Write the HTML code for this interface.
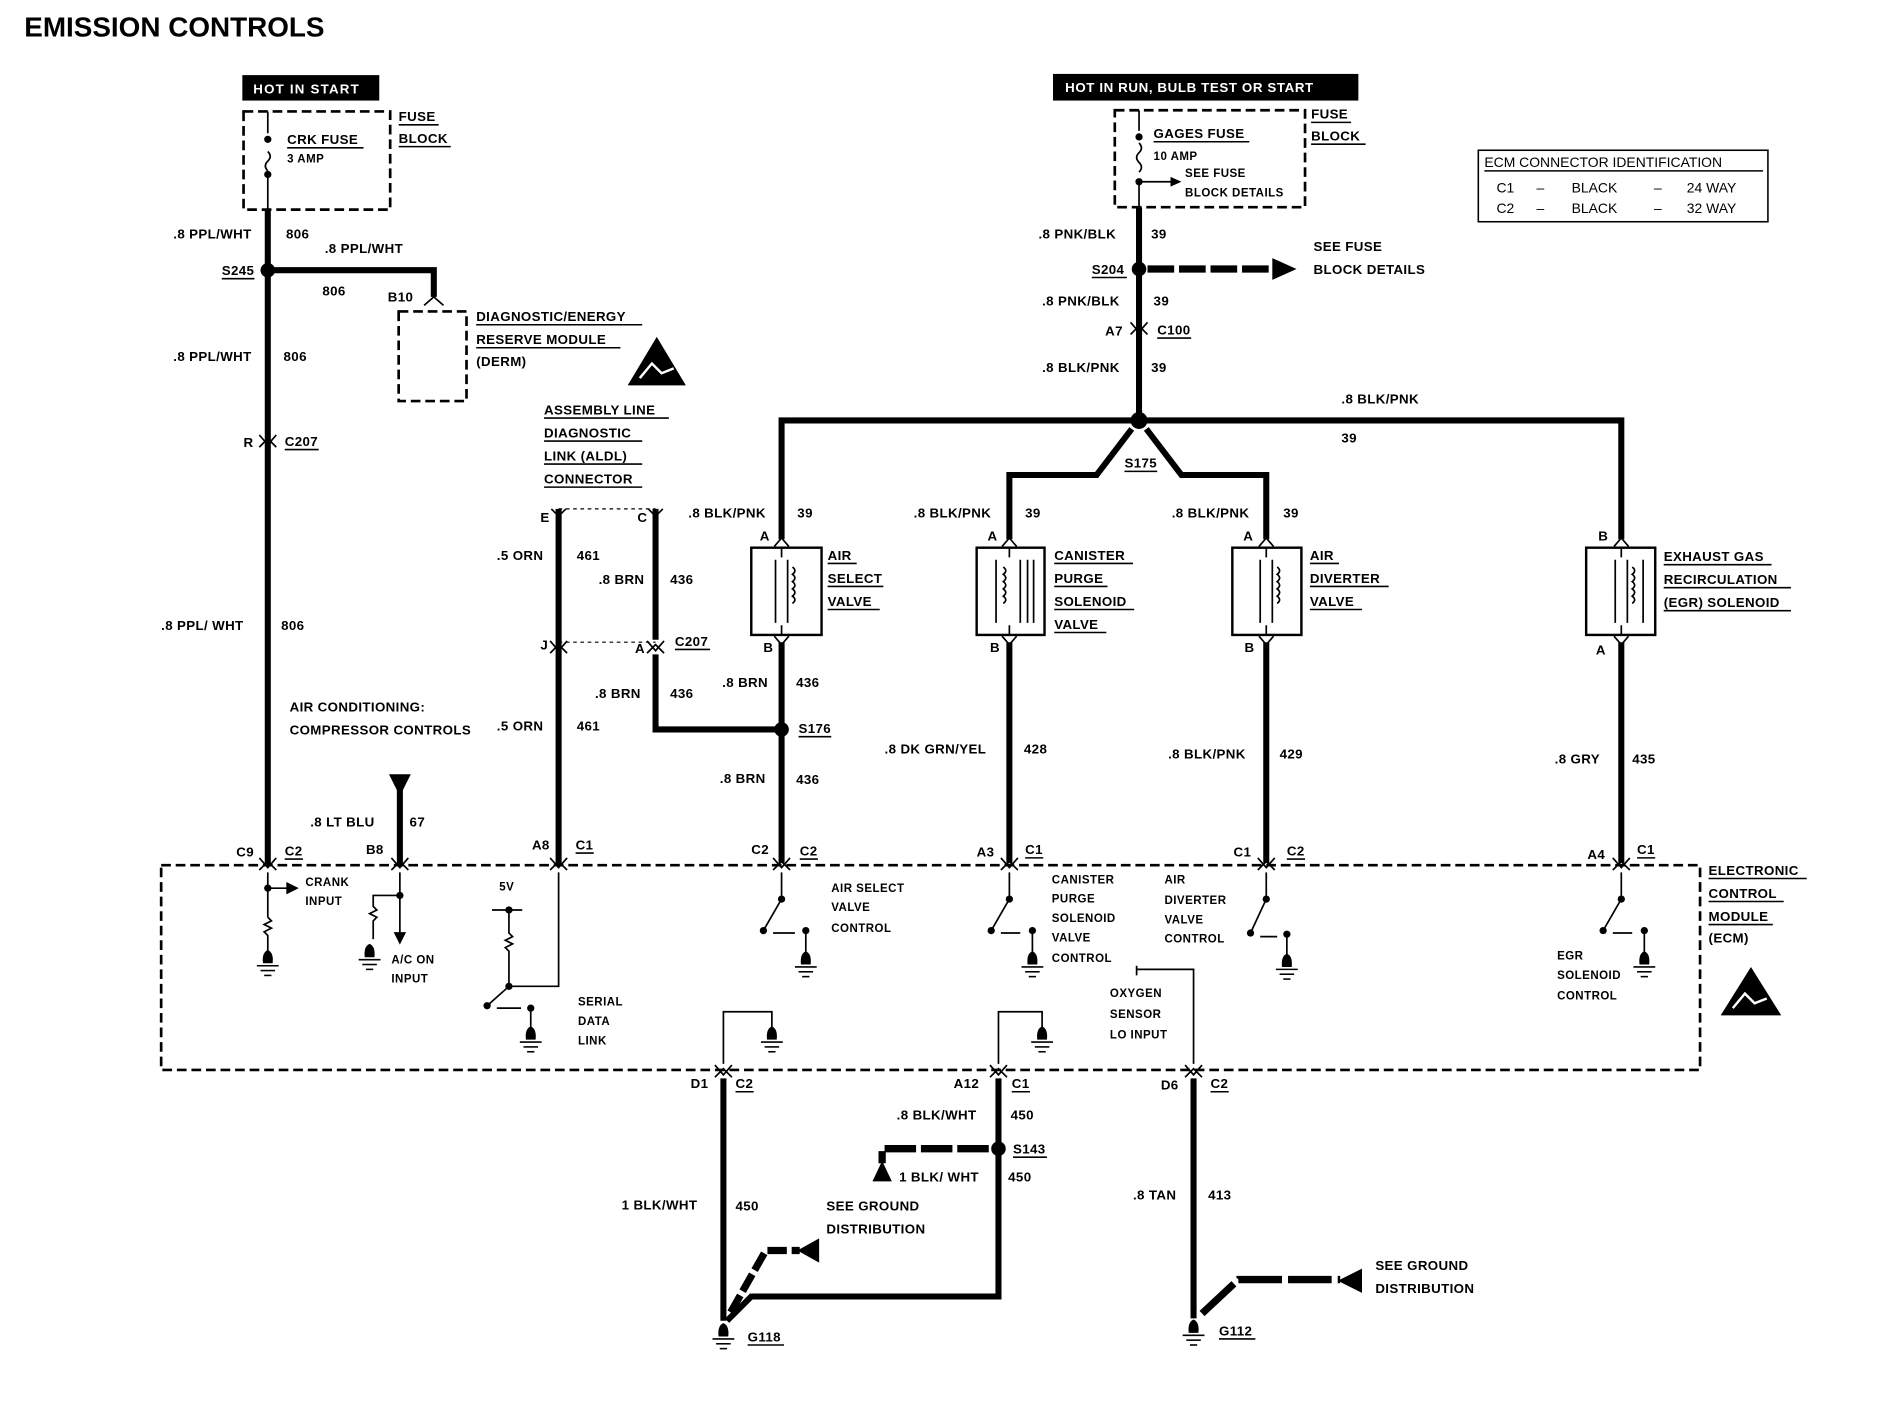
<!DOCTYPE html>
<html><head><meta charset="utf-8"><style>
html,body{margin:0;padding:0;background:#fff;}
svg{display:block;}
text{font-family:"Liberation Sans Narrow","Liberation Sans",sans-serif;font-weight:bold;font-size:11.5px;fill:#000;}
.t{font-size:11px;letter-spacing:0.3px;}
.s{font-size:9.5px;letter-spacing:0.4px;}
.w{stroke:#000;stroke-width:5;fill:none;}
.n{stroke:#000;stroke-width:1.4;fill:none;}
.d{stroke:#000;stroke-width:2.2;fill:none;stroke-dasharray:8,4;}
.u{stroke:#000;stroke-width:1.3;}
</style></head><body>
<svg width="1900" height="1408" viewBox="0 0 1568 1162" preserveAspectRatio="none" xmlns="http://www.w3.org/2000/svg">
<defs>
<g id="gnd"><path d="M-4,0 Q-5,-9 0,-11 Q5,-9 4,0 Z" fill="#000"/><line x1="-9" y1="2" x2="9" y2="2" class="u" stroke-width="2"/><line x1="-6" y1="6" x2="6" y2="6" class="u" stroke-width="2"/><line x1="-3" y1="10" x2="3" y2="10" class="u" stroke-width="2"/></g>
<g id="con"><path d="M-7,-6 L0,2 L7,-6" class="n" stroke-width="2.4"/><path d="M-7,4 L0,-3 L7,4" class="n" stroke-width="2.4"/></g>
</defs>
<text x="20" y="30" style="font-size:23px;font-family:'Liberation Sans',sans-serif;">EMISSION CONTROLS</text>

<!-- left fuse -->
<rect x="200" y="62" width="113" height="21" fill="#000"/>
<text x="209" y="77" fill="#fff" style="fill:#fff;font-size:11px;letter-spacing:1px">HOT IN START</text>
<rect x="201" y="92" width="121" height="81" class="d"/>
<path d="M221,92 V110 M221,125 q4,4 0,8 q-4,4 0,8 M221,145 V173" class="n"/>
<circle cx="221" cy="115" r="3"/><circle cx="221" cy="144" r="3"/>
<text x="237" y="119" class="t">CRK FUSE</text><line x1="237" y1="122" x2="300" y2="122" class="u"/>
<text x="237" y="134" class="s">3 AMP</text>
<text x="329" y="100" class="t">FUSE</text><line x1="329" y1="103" x2="362" y2="103" class="u"/>
<text x="329" y="118" class="t">BLOCK</text><line x1="329" y1="121" x2="372" y2="121" class="u"/>

<line x1="221" y1="173" x2="221" y2="714" class="w"/>
<text x="143" y="197" class="t">.8 PPL/WHT</text><text x="236" y="197" class="t">806</text>
<circle cx="221" cy="223" r="6"/>
<text x="183" y="227" class="t">S245</text><line x1="183" y1="230" x2="210" y2="230" class="u"/>
<path d="M221,223 H358 V245" class="w"/>
<path d="M350,252 L358,245 L366,252" class="n" stroke-width="3"/>
<text x="268" y="209" class="t">.8 PPL/WHT</text><text x="266" y="244" class="t">806</text>
<text x="320" y="249" class="t">B10</text>
<rect x="329" y="257" width="56" height="74" class="d"/>
<text x="393" y="265" class="t">DIAGNOSTIC/ENERGY</text><line x1="393" y1="268" x2="530" y2="268" class="u"/>
<text x="393" y="284" class="t">RESERVE MODULE</text><line x1="393" y1="287" x2="512" y2="287" class="u"/>
<text x="393" y="302" class="t">(DERM)</text>
<path d="M518,318 L542,278 L566,318 Z" fill="#000"/>
<path d="M528,312 l10,-12 l8,8 l10,-4" stroke="#fff" stroke-width="2" fill="none"/>
<text x="143" y="298" class="t">.8 PPL/WHT</text><text x="234" y="298" class="t">806</text>
<use href="#con" x="221" y="365"/>
<text x="201" y="369" class="t">R</text><text x="235" y="368" class="t">C207</text><line x1="235" y1="371" x2="263" y2="371" class="u"/>
<text x="133" y="520" class="t">.8 PPL/ WHT</text><text x="232" y="520" class="t">806</text>
<text x="239" y="587" class="t">AIR CONDITIONING:</text>
<text x="239" y="606" class="t">COMPRESSOR CONTROLS</text>
<path d="M321,639 L339,639 L330,657 Z" fill="#000"/>
<line x1="330" y1="650" x2="330" y2="714" class="w"/>
<text x="256" y="682" class="t">.8 LT BLU</text><text x="338" y="682" class="t">67</text>

<!-- ALDL -->
<text x="449" y="342" class="t">ASSEMBLY LINE</text><line x1="449" y1="345" x2="552" y2="345" class="u"/>
<text x="449" y="361" class="t">DIAGNOSTIC</text><line x1="449" y1="364" x2="530" y2="364" class="u"/>
<text x="449" y="380" class="t">LINK (ALDL)</text><line x1="449" y1="383" x2="530" y2="383" class="u"/>
<text x="449" y="399" class="t">CONNECTOR</text><line x1="449" y1="402" x2="530" y2="402" class="u"/>
<path d="M461,420 H541" stroke="#000" stroke-width="1" stroke-dasharray="3,3"/>
<path d="M461,530 H541" stroke="#000" stroke-width="1" stroke-dasharray="3,3"/>
<text x="446" y="431" class="t">E</text><text x="526" y="431" class="t">C</text>
<line x1="461" y1="420" x2="461" y2="714" class="w"/>
<line x1="541" y1="420" x2="541" y2="528" class="w"/>
<path d="M541,540 V602 H645" class="w"/>
<use href="#con" x="461" y="535"/><use href="#con" x="541" y="535"/>
<path d="M455,420 l6,6 l6,-6 M535,420 l6,6 l6,-6" class="n" stroke-width="2"/>
<text x="446" y="536" class="t">J</text><text x="524" y="539" class="t">A</text>
<text x="557" y="533" class="t">C207</text><line x1="557" y1="536" x2="586" y2="536" class="u"/>
<text x="410" y="462" class="t">.5 ORN</text><text x="476" y="462" class="t">461</text>
<text x="494" y="482" class="t">.8 BRN</text><text x="553" y="482" class="t">436</text>
<text x="568" y="427" class="t">.8 BLK/PNK</text><text x="658" y="427" class="t">39</text>
<text x="491" y="576" class="t">.8 BRN</text><text x="553" y="576" class="t">436</text>
<text x="410" y="603" class="t">.5 ORN</text><text x="476" y="603" class="t">461</text>

<!-- right power -->
<rect x="869" y="61" width="252" height="22" fill="#000"/>
<text x="879" y="76" style="fill:#fff;font-size:11px;letter-spacing:0.5px">HOT IN RUN, BULB TEST OR START</text>
<rect x="920" y="91" width="157" height="80" class="d"/>
<path d="M940,91 V108 M940,118 q4,4 0,8 q-4,4 0,8 q4,4 0,8 M940,150 V171" class="n"/>
<circle cx="940" cy="113" r="3"/><circle cx="940" cy="150" r="3"/>
<path d="M940,150 H968" class="n"/><path d="M966,146 L975,150 L966,154 Z" fill="#000"/>
<text x="952" y="114" class="t">GAGES FUSE</text><line x1="952" y1="117" x2="1031" y2="117" class="u"/>
<text x="952" y="132" class="s">10 AMP</text>
<text x="978" y="146" class="s">SEE FUSE</text>
<text x="978" y="162" class="s">BLOCK DETAILS</text>
<text x="1082" y="98" class="t">FUSE</text><line x1="1082" y1="101" x2="1115" y2="101" class="u"/>
<text x="1082" y="116" class="t">BLOCK</text><line x1="1082" y1="119" x2="1127" y2="119" class="u"/>
<line x1="940" y1="171" x2="940" y2="347" class="w"/>
<text x="857" y="197" class="t">.8 PNK/BLK</text><text x="950" y="197" class="t">39</text>
<circle cx="940" cy="222" r="6"/>
<text x="901" y="226" class="t">S204</text><line x1="901" y1="229" x2="930" y2="229" class="u"/>
<path d="M947,222 H1052" stroke="#000" stroke-width="6" stroke-dasharray="22,4"/>
<path d="M1050,213 L1070,222 L1050,231 Z" fill="#000"/>
<text x="1084" y="207" class="t">SEE FUSE</text><text x="1084" y="226" class="t">BLOCK DETAILS</text>
<text x="860" y="252" class="t">.8 PNK/BLK</text><text x="952" y="252" class="t">39</text>
<use href="#con" x="940" y="272"/>
<text x="912" y="277" class="t">A7</text><text x="955" y="276" class="t">C100</text><line x1="955" y1="279" x2="983" y2="279" class="u"/>
<text x="860" y="307" class="t">.8 BLK/PNK</text><text x="950" y="307" class="t">39</text>
<text x="1107" y="333" class="t">.8 BLK/PNK</text><text x="1107" y="365" class="t">39</text>

<path d="M645,445 V347 H1338 V445" class="w"/>
<circle cx="940" cy="347" r="7"/>
<path d="M934,354 L905,392 H833 V445 M946,354 L975,392 H1045 V445" class="w"/>
<text x="928" y="386" class="t">S175</text><line x1="928" y1="389" x2="955" y2="389" class="u"/>

<!-- valves -->
<g>
<rect x="620" y="452" width="58" height="72" fill="none" stroke="#000" stroke-width="2"/>
<path d="M645,452 v8 M645,516 v8 M640,462 v52 M650,462 v52 M654,468 q4,3 0,6 q4,3 0,6 q4,3 0,6 q4,3 0,6 q4,3 0,6" class="n"/>
<path d="M639,451 l6,-7 l6,7 M639,525 l6,7 l6,-7" class="n" stroke-width="2"/>
<text x="627" y="446" class="t">A</text><text x="630" y="538" class="t">B</text>
<text x="683" y="462" class="t">AIR</text><line x1="683" y1="465" x2="707" y2="465" class="u"/>
<text x="683" y="481" class="t">SELECT</text><line x1="683" y1="484" x2="729" y2="484" class="u"/>
<text x="683" y="500" class="t">VALVE</text><line x1="683" y1="503" x2="726" y2="503" class="u"/>
</g>
<g>
<rect x="806" y="452" width="56" height="72" fill="none" stroke="#000" stroke-width="2"/>
<path d="M833,452 v8 M833,516 v8 M822,462 v52 M828,468 q4,3 0,6 q4,3 0,6 q4,3 0,6 q4,3 0,6 q4,3 0,6 M842,462 v52 M848,462 v52 M853,462 v52" class="n"/>
<path d="M827,451 l6,-7 l6,7 M827,525 l6,7 l6,-7" class="n" stroke-width="2"/>
<text x="815" y="446" class="t">A</text><text x="817" y="538" class="t">B</text>
<text x="870" y="462" class="t">CANISTER</text><line x1="870" y1="465" x2="935" y2="465" class="u"/>
<text x="870" y="481" class="t">PURGE</text><line x1="870" y1="484" x2="914" y2="484" class="u"/>
<text x="870" y="500" class="t">SOLENOID</text><line x1="870" y1="503" x2="936" y2="503" class="u"/>
<text x="870" y="519" class="t">VALVE</text><line x1="870" y1="522" x2="913" y2="522" class="u"/>
</g>
<g>
<rect x="1017" y="452" width="57" height="72" fill="none" stroke="#000" stroke-width="2"/>
<path d="M1045,452 v8 M1045,516 v8 M1040,462 v52 M1050,462 v52 M1054,468 q4,3 0,6 q4,3 0,6 q4,3 0,6 q4,3 0,6 q4,3 0,6" class="n"/>
<path d="M1039,451 l6,-7 l6,7 M1039,525 l6,7 l6,-7" class="n" stroke-width="2"/>
<text x="1026" y="446" class="t">A</text><text x="1027" y="538" class="t">B</text>
<text x="1081" y="462" class="t">AIR</text><line x1="1081" y1="465" x2="1105" y2="465" class="u"/>
<text x="1081" y="481" class="t">DIVERTER</text><line x1="1081" y1="484" x2="1146" y2="484" class="u"/>
<text x="1081" y="500" class="t">VALVE</text><line x1="1081" y1="503" x2="1124" y2="503" class="u"/>
</g>
<g>
<rect x="1309" y="452" width="57" height="72" fill="none" stroke="#000" stroke-width="2"/>
<path d="M1338,452 v8 M1338,516 v8 M1333,462 v52 M1343,462 v52 M1347,468 q4,3 0,6 q4,3 0,6 q4,3 0,6 q4,3 0,6 q4,3 0,6 M1356,462 v52" class="n"/>
<path d="M1332,451 l6,-7 l6,7 M1332,525 l6,7 l6,-7" class="n" stroke-width="2"/>
<text x="1319" y="446" class="t">B</text><text x="1317" y="540" class="t">A</text>
<text x="1373" y="463" class="t">EXHAUST GAS</text><line x1="1373" y1="466" x2="1462" y2="466" class="u"/>
<text x="1373" y="482" class="t">RECIRCULATION</text><line x1="1373" y1="485" x2="1478" y2="485" class="u"/>
<text x="1373" y="501" class="t">(EGR) SOLENOID</text><line x1="1373" y1="504" x2="1478" y2="504" class="u"/>
</g>
<text x="754" y="427" class="t">.8 BLK/PNK</text><text x="846" y="427" class="t">39</text>
<text x="967" y="427" class="t">.8 BLK/PNK</text><text x="1059" y="427" class="t">39</text>

<line x1="645" y1="530" x2="645" y2="712" class="w"/>
<circle cx="645" cy="602" r="6"/>
<text x="659" y="605" class="t">S176</text><line x1="659" y1="608" x2="686" y2="608" class="u"/>
<text x="596" y="567" class="t">.8 BRN</text><text x="657" y="567" class="t">436</text>
<text x="594" y="646" class="t">.8 BRN</text><text x="657" y="647" class="t">436</text>
<line x1="833" y1="530" x2="833" y2="712" class="w"/>
<text x="730" y="622" class="t">.8 DK GRN/YEL</text><text x="845" y="622" class="t">428</text>
<line x1="1045" y1="530" x2="1045" y2="712" class="w"/>
<text x="964" y="626" class="t">.8 BLK/PNK</text><text x="1056" y="626" class="t">429</text>
<line x1="1338" y1="530" x2="1338" y2="712" class="w"/>
<text x="1283" y="630" class="t">.8 GRY</text><text x="1347" y="630" class="t">435</text>

<g>
<text x="195" y="707" class="t">C9</text><text x="235" y="706" class="t">C2</text><line x1="235" y1="709" x2="250" y2="709" class="u"/>
<text x="302" y="705" class="t">B8</text>
<text x="439" y="701" class="t">A8</text><text x="475" y="701" class="t">C1</text><line x1="475" y1="704" x2="490" y2="704" class="u"/>
<text x="620" y="705" class="t">C2</text><text x="660" y="706" class="t">C2</text><line x1="660" y1="709" x2="675" y2="709" class="u"/>
<text x="806" y="707" class="t">A3</text><text x="846" y="705" class="t">C1</text><line x1="846" y1="708" x2="861" y2="708" class="u"/>
<text x="1018" y="707" class="t">C1</text><text x="1062" y="706" class="t">C2</text><line x1="1062" y1="709" x2="1077" y2="709" class="u"/>
<text x="1310" y="709" class="t">A4</text><text x="1351" y="705" class="t">C1</text><line x1="1351" y1="708" x2="1366" y2="708" class="u"/>
</g>
<g><use href="#con" x="221" y="714"/><use href="#con" x="330" y="714"/><use href="#con" x="461" y="714"/><use href="#con" x="645" y="714"/><use href="#con" x="833" y="714"/><use href="#con" x="1045" y="714"/><use href="#con" x="1338" y="714"/></g>

<rect x="133" y="714" width="1270" height="169" class="d"/>
<text x="1410" y="722" class="t">ELECTRONIC</text><line x1="1410" y1="725" x2="1491" y2="725" class="u"/>
<text x="1410" y="741" class="t">CONTROL</text><line x1="1410" y1="744" x2="1472" y2="744" class="u"/>
<text x="1410" y="760" class="t">MODULE</text><line x1="1410" y1="763" x2="1463" y2="763" class="u"/>
<text x="1410" y="778" class="t">(ECM)</text>
<path d="M1420,838 L1445,798 L1470,838 Z" fill="#000"/>
<path d="M1430,832 l10,-12 l8,8 l10,-4" stroke="#fff" stroke-width="2" fill="none"/>

<g class="n">
<path d="M221,720 V757 M221,757 l3,3 l-6,3 l6,3 l-6,3 l3,3 V785 M221,733 H240"/>
<path d="M237,729 L245,733 L237,737 Z" fill="#000"/>
<path d="M330,720 V775 M330,739 H308 V748 l3,3 l-6,3 l6,3 l-3,3 V775"/>
<path d="M326,770 L330,778 L334,770 Z" fill="#000"/>
<path d="M461,720 V814 H420 M406,751 H431 M420,751 V770 l3,3 l-6,3 l6,3 l-6,3 l3,3 V814 L402,830 M410,832 H430 M438,832 V848"/>
<path d="M645,720 V742 L630,768 M638,770 H656 M665,768 V786"/>
<path d="M833,720 V742 L818,768 M826,770 H842 M852,768 V786"/>
<path d="M1045,720 V742 L1032,770 M1040,773 H1054 M1062,771 V789"/>
<path d="M1338,720 V742 L1323,768 M1331,770 H1347 M1357,768 V786"/>
<path d="M597,878 V835 H637 V848 M824,878 V835 H860 V848"/>
<path d="M938,797 V805 M938,800 H985 V878"/>
</g>
<g fill="#000"><circle cx="221" cy="733" r="3"/><circle cx="330" cy="739" r="3"/><circle cx="420" cy="751" r="3"/><circle cx="420" cy="814" r="3"/><circle cx="402" cy="830" r="3"/><circle cx="438" cy="832" r="3"/>
<circle cx="645" cy="742" r="3"/><circle cx="630" cy="768" r="3"/><circle cx="665" cy="768" r="3"/>
<circle cx="833" cy="742" r="3"/><circle cx="818" cy="768" r="3"/><circle cx="852" cy="768" r="3"/>
<circle cx="1045" cy="742" r="3"/><circle cx="1032" cy="770" r="3"/><circle cx="1062" cy="771" r="3"/>
<circle cx="1338" cy="742" r="3"/><circle cx="1323" cy="768" r="3"/><circle cx="1357" cy="768" r="3"/></g>
<use href="#gnd" x="221" y="795"/><use href="#gnd" x="305" y="790"/><use href="#gnd" x="438" y="858"/>
<use href="#gnd" x="665" y="796"/><use href="#gnd" x="852" y="796"/><use href="#gnd" x="1062" y="798"/><use href="#gnd" x="1357" y="796"/>
<use href="#gnd" x="637" y="858"/><use href="#gnd" x="860" y="858"/>
<text x="252" y="731" class="s">CRANK</text><text x="252" y="747" class="s">INPUT</text>
<text x="412" y="735" class="s">5V</text>
<text x="323" y="795" class="s">A/C ON</text><text x="323" y="811" class="s">INPUT</text>
<text x="477" y="830" class="s">SERIAL</text><text x="477" y="846" class="s">DATA</text><text x="477" y="862" class="s">LINK</text>
<text x="686" y="736" class="s">AIR SELECT</text><text x="686" y="752" class="s">VALVE</text><text x="686" y="769" class="s">CONTROL</text>
<text x="868" y="729" class="s">CANISTER</text><text x="868" y="745" class="s">PURGE</text><text x="868" y="761" class="s">SOLENOID</text><text x="868" y="777" class="s">VALVE</text><text x="868" y="794" class="s">CONTROL</text>
<text x="961" y="729" class="s">AIR</text><text x="961" y="746" class="s">DIVERTER</text><text x="961" y="762" class="s">VALVE</text><text x="961" y="778" class="s">CONTROL</text>
<text x="916" y="823" class="s">OXYGEN</text><text x="916" y="840" class="s">SENSOR</text><text x="916" y="857" class="s">LO INPUT</text>
<text x="1285" y="792" class="s">EGR</text><text x="1285" y="808" class="s">SOLENOID</text><text x="1285" y="825" class="s">CONTROL</text>

<g><use href="#con" x="597" y="885"/><use href="#con" x="824" y="885"/><use href="#con" x="985" y="885"/></g>
<text x="570" y="898" class="t">D1</text><text x="607" y="898" class="t">C2</text><line x1="607" y1="901" x2="622" y2="901" class="u"/>
<text x="787" y="898" class="t">A12</text><text x="835" y="898" class="t">C1</text><line x1="835" y1="901" x2="850" y2="901" class="u"/>
<text x="958" y="899" class="t">D6</text><text x="999" y="898" class="t">C2</text><line x1="999" y1="901" x2="1014" y2="901" class="u"/>
<path d="M597,890 V1090 M824,890 V1070 H620 L600,1090" class="w"/>
<circle cx="824" cy="948" r="6"/>
<text x="836" y="952" class="t">S143</text><line x1="836" y1="955" x2="864" y2="955" class="u"/>
<path d="M816,948 H728 V960" stroke="#000" stroke-width="6" fill="none" stroke-dasharray="26,4"/>
<path d="M720,975 L728,958 L736,975 Z" fill="#000"/>
<text x="740" y="924" class="t">.8 BLK/WHT</text><text x="834" y="924" class="t">450</text>
<text x="742" y="975" class="t">1 BLK/ WHT</text><text x="832" y="975" class="t">450</text>
<text x="513" y="998" class="t">1 BLK/WHT</text><text x="607" y="999" class="t">450</text>
<text x="682" y="999" class="t">SEE GROUND</text><text x="682" y="1018" class="t">DISTRIBUTION</text>
<path d="M603,1083 L632,1032 H660" stroke="#000" stroke-width="6" fill="none" stroke-dasharray="16,4"/>
<path d="M658,1032 L676,1022 L676,1042 Z" fill="#000"/>
<use href="#gnd" x="597" y="1103"/>
<text x="617" y="1107" class="t">G118</text><line x1="617" y1="1110" x2="647" y2="1110" class="u"/>
<line x1="985" y1="890" x2="985" y2="1088" class="w"/>
<text x="935" y="990" class="t">.8 TAN</text><text x="997" y="990" class="t">413</text>
<path d="M992,1084 L1022,1056 H1106" stroke="#000" stroke-width="6" fill="none" stroke-dasharray="36,5"/>
<path d="M1104,1057 L1124,1047 L1124,1067 Z" fill="#000"/>
<text x="1135" y="1048" class="t">SEE GROUND</text><text x="1135" y="1067" class="t">DISTRIBUTION</text>
<use href="#gnd" x="985" y="1100"/>
<text x="1006" y="1102" class="t">G112</text><line x1="1006" y1="1105" x2="1036" y2="1105" class="u"/>

<rect x="1220" y="124" width="239" height="59" fill="none" stroke="#000" stroke-width="1.3"/>
<text x="1225" y="138" style="font-weight:normal;font-size:11.5px">ECM CONNECTOR IDENTIFICATION</text>
<line x1="1225" y1="141" x2="1455" y2="141" class="u" stroke-width="1"/>
<text x="1235" y="159" style="font-weight:normal">C1</text><text x="1268" y="159" style="font-weight:normal">–</text><text x="1297" y="159" style="font-weight:normal">BLACK</text><text x="1365" y="159" style="font-weight:normal">–</text><text x="1392" y="159" style="font-weight:normal">24 WAY</text>
<text x="1235" y="176" style="font-weight:normal">C2</text><text x="1268" y="176" style="font-weight:normal">–</text><text x="1297" y="176" style="font-weight:normal">BLACK</text><text x="1365" y="176" style="font-weight:normal">–</text><text x="1392" y="176" style="font-weight:normal">32 WAY</text>
</svg>
</body></html>
